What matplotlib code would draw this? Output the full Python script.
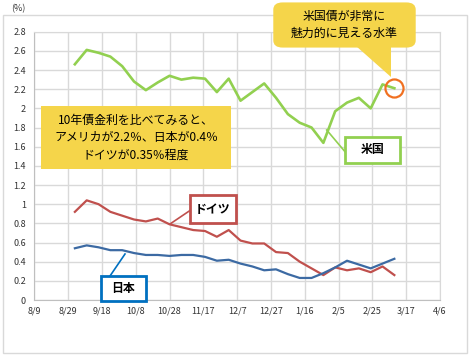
import datetime as dt
import matplotlib
matplotlib.use("Agg")
import matplotlib.pyplot as plt
import matplotlib.dates as mdates
from matplotlib.patches import Rectangle, FancyBboxPatch, Polygon
from matplotlib.lines import Line2D

plt.rcParams['font.family'] = ['Noto Sans CJK JP', 'DejaVu Sans']

# weekly 10-year bond yields (%), 2014/9/2 - 2015/3/10
start = dt.date(2014, 9, 2)
dates = [start + dt.timedelta(days=7 * i) for i in range(28)]
us = [2.46, 2.61, 2.58, 2.54, 2.44, 2.28, 2.19, 2.27, 2.34, 2.30, 2.32, 2.31, 2.17, 2.31,
      2.08, 2.17, 2.26, 2.11, 1.94, 1.85, 1.80, 1.64, 1.97, 2.06, 2.11, 2.00, 2.25, 2.21]
germany = [0.92, 1.04, 1.00, 0.92, 0.88, 0.84, 0.82, 0.85, 0.79, 0.76, 0.73, 0.72, 0.66, 0.73,
           0.62, 0.59, 0.59, 0.50, 0.49, 0.40, 0.33, 0.26, 0.34, 0.31, 0.33, 0.29, 0.35, 0.26]
japan = [0.54, 0.57, 0.55, 0.52, 0.52, 0.49, 0.47, 0.47, 0.46, 0.47, 0.47, 0.45, 0.41, 0.42,
         0.38, 0.35, 0.31, 0.32, 0.27, 0.23, 0.23, 0.28, 0.34, 0.41, 0.37, 0.33, 0.38, 0.43]

x_ticks = [dt.date(2014, 8, 9) + dt.timedelta(days=20 * i) for i in range(13)]
y_ticks = [i * 0.2 for i in range(15)]

W, H = 471, 358
def fx(x):
    return x / W
def fy(y):
    return 1 - y / H

fig = plt.figure(figsize=(W / 100, H / 100), dpi=100)
fig.patch.set_facecolor('white')
ax = fig.add_axes([fx(34.3), fy(300), fx(440) - fx(34.3), fy(31.7) - fy(300)])

grid_c = '#d9d9d9'
ax.plot(dates, us, color='#92d050', lw=1.9, zorder=3)
ax.plot(dates, germany, color='#c0504d', lw=1.6, zorder=3)
ax.plot(dates, japan, color='#3c6aa3', lw=1.6, zorder=3)
ax.plot(dates[-1], us[-1], 'o', ms=13, mfc='none', mec='#f07021', mew=1.6, zorder=4)

ax.set_xlim(x_ticks[0], x_ticks[-1])
ax.set_ylim(0, 2.8)
ax.set_xticks(x_ticks)
ax.set_xticklabels([f"{d.month}/{d.day}" for d in x_ticks])
ax.set_yticks(y_ticks)
ax.set_yticklabels([f"{v:g}" for v in [round(t, 1) for t in y_ticks]])
ax.tick_params(length=0, labelsize=6.5, colors='#333333')
ax.tick_params(axis='x', pad=5)
ax.tick_params(axis='y', pad=6)
ax.grid(True, color=grid_c, lw=1)
ax.set_axisbelow(True)
for s in ax.spines.values():
    s.set_color(grid_c)
ax.spines['left'].set_color('#bfbfbf')
ax.spines['bottom'].set_color('#bfbfbf')

# outer border
fig.add_artist(Rectangle((fx(2.7), fy(353)), fx(467) - fx(2.7), fy(15.3) - fy(353),
                         fill=False, ec=grid_c, lw=1, zorder=0))
fig.text(fx(11), fy(9), "(%)", fontsize=6.5, va='center', ha='left', color='#333333')

yellow = '#f5d54a'
# left note box
fig.add_artist(Rectangle((fx(41), fy(169)), fx(231) - fx(41), fy(106) - fy(169),
                         fc=yellow, ec='none', zorder=5))
fig.text(fx(136), fy(137.5), "10年債金利を比べてみると、\nアメリカが2.2％、日本が0.4％\nドイツが0.35％程度",
         fontsize=8.6, ha='center', va='center', linespacing=1.45, zorder=6)

# top callout
fig.add_artist(FancyBboxPatch((fx(278), fy(44)), fx(411) - fx(278), fy(6) - fy(44),
                              boxstyle="round,pad=0.01,rounding_size=0.02",
                              fc=yellow, ec='none', zorder=5))
fig.add_artist(Polygon([(fx(356), fy(46)), (fx(391), fy(46)), (fx(391), fy(77))],
                       closed=True, fc=yellow, ec='none', zorder=5))
fig.text(fx(344.5), fy(25), "米国債が非常に\n魅力的に見える水準", fontsize=8.6,
         ha='center', va='center', linespacing=1.45, zorder=6)

# series labels
def label_box(x0, y0, x1, y1, text, color, lead):
    fig.add_artist(Line2D([fx(lead[0][0]), fx(lead[1][0])], [fy(lead[0][1]), fy(lead[1][1])],
                          color=color, lw=1.2, zorder=5))
    fig.add_artist(Rectangle((fx(x0), fy(y1)), fx(x1) - fx(x0), fy(y0) - fy(y1),
                             fc='white', ec=color, lw=2, zorder=5))
    fig.text(fx((x0 + x1) / 2), fy((y0 + y1) / 2), text, fontsize=8.6, weight='bold',
             ha='center', va='center', zorder=6)

label_box(345, 137, 400, 163, "米国", '#92d050', [(326.7, 130), (345, 151.7)])
label_box(190, 195, 235.7, 223.3, "ドイツ", '#c0504d', [(170, 224), (190, 210.5)])
label_box(100.7, 276, 146, 300.7, "日本", '#0070c0', [(110, 276), (125, 254)])

fig.savefig("out.png", dpi=100)
